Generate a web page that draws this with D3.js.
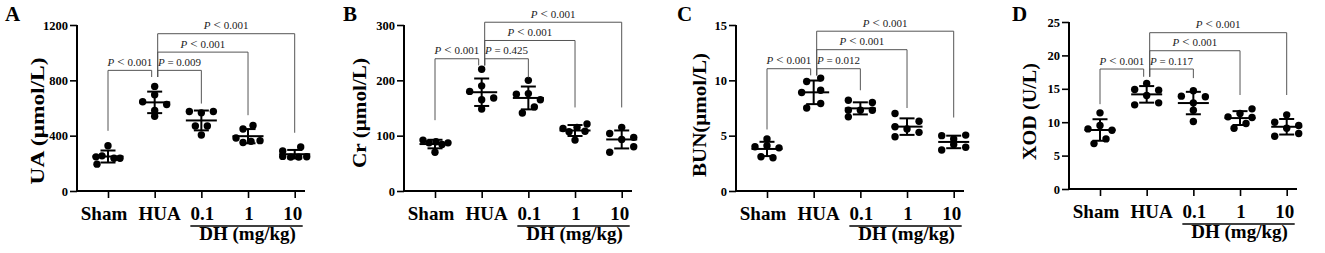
<!DOCTYPE html>
<html><head><meta charset="utf-8">
<script src="https://cdn.jsdelivr.net/npm/d3@7"></script>
<style>body{margin:0;background:#fff}svg{display:block}</style>
</head><body><svg id="c" width="1325" height="253"></svg>
<script>
// ---------- data ----------
const categories = ["Sham", "HUA", "0.1", "1", "10"];
const doseTitle = "DH (mg/kg)";

const uaValues = [
  [327, 247, 254, 237, 237, 194],
  [756, 696, 645, 625, 582, 540],
  [575, 565, 575, 470, 470, 405],
  [473, 448, 383, 364, 359, 351],
  [318, 290, 250, 245, 245, 248]
];
const crValues = [
  [92, 87, 89, 84, 87, 70],
  [220, 190, 180, 168, 165, 148],
  [200, 176, 175, 165, 152, 141],
  [113, 107, 115, 121, 108, 92],
  [115, 104, 93, 97, 80, 70]
];
const bunValues = [
  [4.7, 4.0, 4.1, 3.9, 3.1, 3.0],
  [9.9, 10.2, 8.9, 9.1, 7.5, 7.9],
  [8.2, 8.0, 7.3, 7.3, 7.3, 6.7],
  [7.0, 5.8, 5.6, 6.3, 5.3, 4.9],
  [5.0, 5.05, 4.7, 4.2, 3.7, 3.95]
];
const xodValues = [
  [11.4, 9.5, 9.0, 8.8, 7.5, 6.8],
  [15.8, 14.9, 14.8, 14.0, 12.6, 12.9],
  [14.7, 13.9, 13.8, 12.9, 11.8, 10.1],
  [12.0, 11.3, 10.8, 10.7, 9.8, 9.1],
  [11.1, 10.0, 9.5, 9.1, 8.3, 7.9]
];

const uaTicks = [0, 400, 800, 1200];
const crTicks = [0, 100, 200, 300];
const bunTicks = [0, 5, 10, 15];
const xodTicks = [0, 5, 10, 15, 20, 25];

// comparisons: [groupA, groupB]
const comparisons = [[0, 1], [1, 2], [1, 3], [1, 4]];
const uaP = ["< 0.001", "= 0.009", "< 0.001", "< 0.001"];
const crP = ["< 0.001", "= 0.425", "< 0.001", "< 0.001"];
const bunP = ["< 0.001", "= 0.012", "< 0.001", "< 0.001"];
const xodP = ["< 0.001", "= 0.117", "< 0.001", "< 0.001"];

// bracket heights (value units) and leg ends per group (value units)
const uaBracketLevels = [872, 1004, 1137];
const uaLegEnds = [435, 824, 632, 548, 421];
const crBracketLevels = [239, 272, 305];
const crLegEnds = [128, 227, 205, 151, 151];
const bunBracketLevels = [11.05, 12.77, 14.44];
const bunLegEnds = [5.56, 10.45, 9.1, 7.5, 6.64];
const xodBracketLevels = [17.96, 20.7, 23.4];
const xodLegEnds = [12.7, 16.8, 16.6, 14.07, 14.07];

// ---------- layout (not data) ----------
const bracketLevelIndex = [0, 0, 1, 2];
const spread = [ // horizontal dot spread, px
  [[0, -12, -6, 6, 12, -11], [0, 0, -12, 12, 0, 0], [-12, 0, 12, -6, 6, 0], [5, -5, -12, 12, 3, -5], [6, -12, -12, -4, 4, 12]],
  [[-12, -6, 1, 7, 13, 0], [0, 0, -12, 12, 0, 0], [0, 0, -12, 12, 6, -6], [-12, -6, 2, 12, 10, 0], [0, -12, 0, 12, 12, -12]],
  [[0, -12, 0, 12, -6, 6], [-7, 7, -12, 7, -7, 7], [-12, 12, -12, 0, 12, -12], [-12, -12, 0, 12, 12, -12], [-12, 12, 0, 0, -12, 12]],
  [[0, 0, -12, 12, 6, -6], [0, -12, 12, 0, -12, 12], [0, -12, 12, 0, 0, 0], [12, 0, -12, 12, 6, -6], [0, -12, 12, 0, 12, -12]]
];

const panels = [
  {letter: "A", label: "UA (μmol/L)", values: uaValues, ticks: uaTicks, p: uaP, levels: uaBracketLevels, legs: uaLegEnds,
   x0: 77, yTop: 25, yBot: 191, letterX: 5, labelX: 44, labelY: 121, labelLen: 127},
  {letter: "B", label: "Cr (μmol/L)", values: crValues, ticks: crTicks, p: crP, levels: crBracketLevels, legs: crLegEnds,
   x0: 404, yTop: 25, yBot: 191, letterX: 343, labelX: 366, labelY: 113, labelLen: 110},
  {letter: "C", label: "BUN(μmol/L)", values: bunValues, ticks: bunTicks, p: bunP, levels: bunBracketLevels, legs: bunLegEnds,
   x0: 736, yTop: 25, yBot: 191, letterX: 677, labelX: 706, labelY: 115, labelLen: 124},
  {letter: "D", label: "XOD (U/L)", values: xodValues, ticks: xodTicks, p: xodP, levels: xodBracketLevels, legs: xodLegEnds,
   x0: 1069, yTop: 22, yBot: 189, letterX: 1012, labelX: 1036, labelY: 111.5, labelLen: 97}
];

const svg = d3.select("#c");
const serif = "'Liberation Serif','Times New Roman',Times,serif";

panels.forEach((P, pi) => {
  const g = svg.append("g");
  const x = d3.scalePoint().domain(categories).range([P.x0 + 31, P.x0 + 31 + 186.7]);
  const y = d3.scaleLinear().domain([0, P.ticks[P.ticks.length - 1]]).range([P.yBot, P.yTop]);

  // y axis
  const yAx = g.append("g").attr("transform", `translate(${P.x0},0)`)
    .call(d3.axisLeft(y).tickValues(P.ticks).tickSize(7).tickPadding(2).tickFormat(d3.format("d")));
  yAx.select(".domain").attr("stroke-width", 2).attr("d", `M0,${P.yTop}V${P.yBot + 1}`);
  yAx.selectAll(".tick line").attr("stroke-width", 1.6);
  yAx.selectAll("text").attr("font-family", serif).attr("font-weight", "bold").attr("font-size", 12.5).attr("fill", "#000");

  // x axis
  const xAx = g.append("g").attr("transform", `translate(0,${P.yBot})`)
    .call(d3.axisBottom(x).tickSize(7).tickFormat(""));
  xAx.select(".domain").attr("stroke-width", 2).attr("d", `M${P.x0 - 1},0H${P.x0 + 228}`);
  xAx.selectAll(".tick line").attr("stroke-width", 1.6);

  // category labels
  const labelShift = [-4, 5, 1, 1, -2];
  g.selectAll(".cat").data(categories).enter().append("text")
    .attr("x", (d, i) => x(d) + labelShift[i]).attr("y", P.yBot + 28.5)
    .attr("text-anchor", "middle").attr("font-family", serif).attr("font-weight", "bold")
    .attr("font-size", 19).text(d => d);

  // dose underline & title
  const u1 = x("0.1") - 11, u2 = x("10") + 8;
  g.append("line").attr("x1", u1).attr("x2", u2).attr("y1", P.yBot + 35).attr("y2", P.yBot + 35)
    .attr("stroke", "#000").attr("stroke-width", 1.4);
  g.append("text").attr("x", (u1 + u2) / 2 + 1).attr("y", P.yBot + 49).attr("text-anchor", "middle")
    .attr("font-family", serif).attr("font-weight", "bold").attr("font-size", 19).text(doseTitle);

  // y label
  g.append("text").attr("transform", `translate(${P.labelX},${P.labelY}) rotate(-90)`)
    .attr("text-anchor", "middle").attr("font-family", serif).attr("font-weight", "bold")
    .attr("font-size", 19.5).attr("textLength", P.labelLen).attr("lengthAdjust", "spacingAndGlyphs")
    .text(P.label);

  // panel letter
  g.append("text").attr("x", P.letterX).attr("y", 21).attr("font-family", serif)
    .attr("font-weight", "bold").attr("font-size", 21).text(P.letter);

  // dots
  P.values.forEach((vals, gi) => {
    const cx = x(categories[gi]);
    g.selectAll(null).data(vals).enter().append("circle")
      .attr("cx", (d, k) => cx + spread[pi][gi][k]).attr("cy", d => y(d)).attr("r", 3.7).attr("fill", "#000");
    const m = d3.mean(vals), s = d3.deviation(vals);
    const eb = g.append("g").attr("stroke", "#000").attr("stroke-width", 2);
    eb.append("line").attr("x1", cx).attr("x2", cx).attr("y1", y(m + s)).attr("y2", y(m - s));
    eb.append("line").attr("x1", cx - 15.5).attr("x2", cx + 15.5).attr("y1", y(m)).attr("y2", y(m));
    [m + s, m - s].forEach(v => eb.append("line").attr("x1", cx - 7.5).attr("x2", cx + 7.5).attr("y1", y(v)).attr("y2", y(v)));
  });

  // significance brackets
  comparisons.forEach((c, ci) => {
    const lvl = y(P.levels[bracketLevelIndex[ci]]);
    const xa = x(categories[c[0]]) + (c[0] === 1 ? 3 : 0);
    const xb = x(categories[c[1]]) + (c[1] === 1 ? -3 : 0);
    g.append("path")
      .attr("d", `M${xa},${y(P.legs[c[0]])}V${lvl}H${xb}V${y(P.legs[c[1]])}`)
      .attr("fill", "none").attr("stroke", "#555").attr("stroke-width", 1);
    const t = g.append("text").attr("x", (xa + xb) / 2).attr("y", lvl - 4.5).attr("text-anchor", "middle")
      .attr("font-family", serif).attr("font-size", 11).attr("fill", "#222");
    t.append("tspan").attr("font-style", "italic").text("P");
    const parts = P.p[ci].split(" ");
    if (parts[0] === "<") {
      t.append("tspan").attr("dx", 3).attr("font-size", 13).text("<");
      t.append("tspan").attr("dx", 3).text(parts[1]);
    } else {
      t.append("tspan").text(" = " + parts[1]);
    }
  });
});
</script>
</body></html>
